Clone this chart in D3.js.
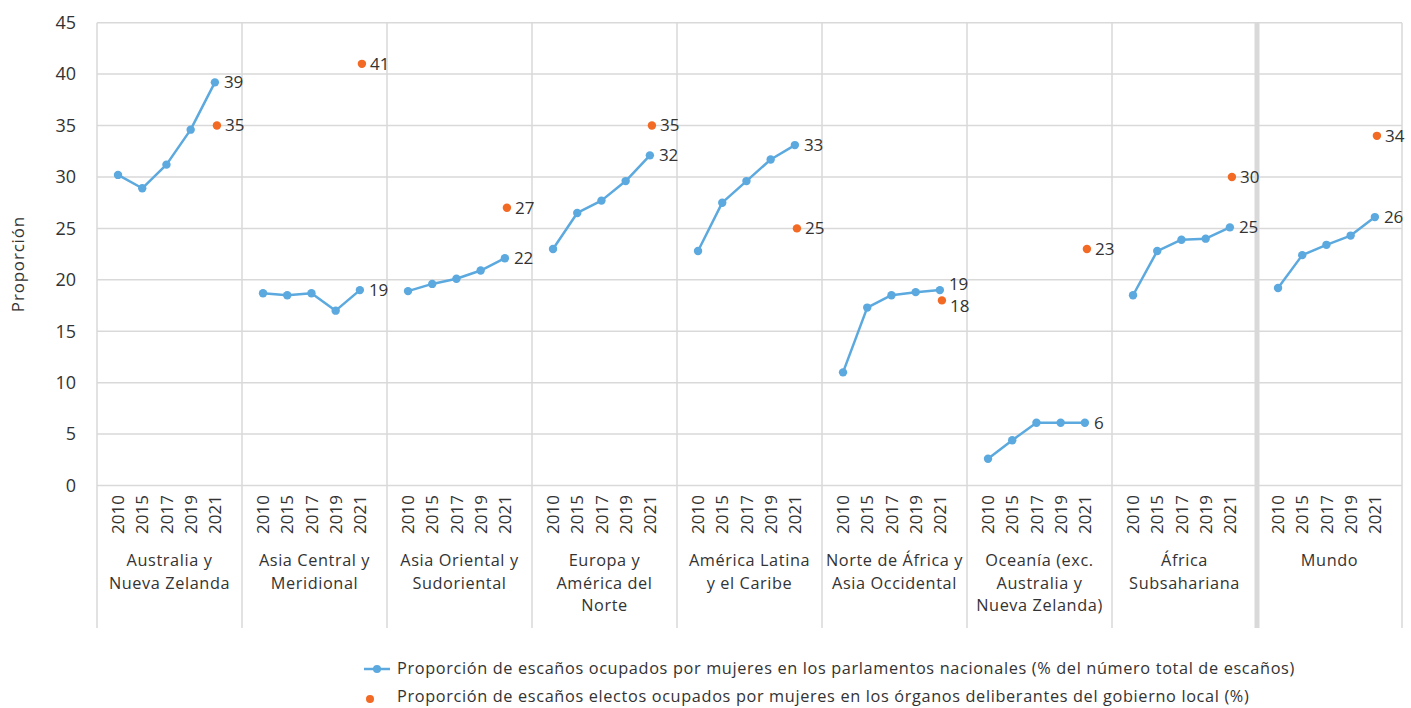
<!DOCTYPE html>
<html>
<head>
<meta charset="utf-8">
<script src="https://cdn.jsdelivr.net/npm/d3@7"></script>
<style>
  html, body { margin: 0; padding: 0; background: #fff; }
  svg { display: block; font-family: "Open Sans", Lato, sans-serif; }
</style>
</head>
<body>
<svg id="chart" width="1411" height="708"></svg>
<script>
// Regions (category groups) and their multi-line labels
const regions = [
  "Australia y\nNueva Zelanda",
  "Asia Central y\nMeridional",
  "Asia Oriental y\nSudoriental",
  "Europa y\nAmérica del\nNorte",
  "América Latina\ny el Caribe",
  "Norte de África y\nAsia Occidental",
  "Oceanía (exc.\nAustralia y\nNueva Zelanda)",
  "África\nSubsahariana",
  "Mundo"
];
const years = ["2010", "2015", "2017", "2019", "2021"];

// Share of seats held by women in national parliaments (%), per region, per year
const parliament = [
  [30.2, 28.9, 31.2, 34.6, 39.2],
  [18.7, 18.5, 18.7, 17.0, 19.0],
  [18.9, 19.6, 20.1, 20.9, 22.1],
  [23.0, 26.5, 27.7, 29.6, 32.1],
  [22.8, 27.5, 29.6, 31.7, 33.1],
  [11.0, 17.3, 18.5, 18.8, 19.0],
  [2.6, 4.4, 6.1, 6.1, 6.1],
  [18.5, 22.8, 23.9, 24.0, 25.1],
  [19.2, 22.4, 23.4, 24.3, 26.1]
];
// Share of elected seats held by women in local deliberative bodies (%), 2021
const localGov = [35, 41, 27, 35, 25, 18, 23, 30, 34];

const yTicks = [0, 5, 10, 15, 20, 25, 30, 35, 40, 45];

const legendLabels = [
  "Proporción de escaños ocupados por mujeres en los parlamentos nacionales (% del número total de escaños)",
  "Proporción de escaños electos ocupados por mujeres en los órganos deliberantes del gobierno local (%)"
];

const BLUE = "#5BA9DE";
const ORANGE = "#F26A24";
const GRID = "#d9d9d9";
const TEXT = "#333333";

const svg = d3.select("#chart");

const plot = { left: 97, right: 1402, top: 22.7, bottom: 485.5, axisBottom: 628 };

const y = d3.scaleLinear().domain([0, 45]).range([plot.bottom, plot.top]);
const gx = d3.scaleBand().domain(d3.range(regions.length)).range([plot.left, plot.right]).padding(0);
const bw = gx.bandwidth();
const xYear = d3.scalePoint().domain(years).range([bw * 0.145, bw * 0.813]);
const xOrange = bw * 0.827;

// Horizontal gridlines
svg.append("g")
  .selectAll("line")
  .data(yTicks)
  .join("line")
  .attr("x1", plot.left).attr("x2", plot.right)
  .attr("y1", d => y(d)).attr("y2", d => y(d))
  .attr("stroke", GRID).attr("stroke-width", 1.5);

// Y tick labels
svg.append("g")
  .selectAll("text")
  .data(yTicks)
  .join("text")
  .attr("x", 76).attr("y", d => y(d))
  .attr("dy", "0.35em")
  .attr("text-anchor", "end")
  .attr("font-size", 18)
  .attr("fill", TEXT)
  .text(d => d);

// Y axis title
svg.append("text")
  .attr("transform", `translate(24, ${(plot.top + plot.bottom) / 2 + 10}) rotate(-90)`)
  .attr("text-anchor", "middle")
  .attr("font-size", 17)
  .attr("letter-spacing", 0.8)
  .attr("fill", TEXT)
  .text("Proporción");

// Group separators (extending through the category label area)
const seps = d3.range(regions.length + 1).map(i => i < regions.length ? gx(i) : plot.right);
svg.append("g")
  .selectAll("line")
  .data(seps)
  .join("line")
  .attr("x1", d => d).attr("x2", d => d)
  .attr("y1", plot.top).attr("y2", plot.axisBottom)
  .attr("stroke", GRID)
  .attr("stroke-width", (d, i) => i === regions.length - 1 ? 5 : 1.5);

// One group per region
const groups = svg.append("g")
  .selectAll("g")
  .data(regions)
  .join("g")
  .attr("transform", (d, i) => `translate(${gx(i)},0)`);

// Year tick labels (rotated)
groups.selectAll("text.year")
  .data(years)
  .join("text")
  .attr("class", "year")
  .attr("transform", d => `translate(${xYear(d)}, 495) rotate(-90)`)
  .attr("dy", "0.36em")
  .attr("text-anchor", "end")
  .attr("font-size", 17)
  .attr("fill", TEXT)
  .text(d => d);

// Region labels
groups.append("text")
  .attr("x", bw / 2)
  .attr("y", 566)
  .attr("text-anchor", "middle")
  .attr("font-size", 16.3)
  .attr("letter-spacing", 0.6)
  .attr("fill", TEXT)
  .selectAll("tspan")
  .data(d => d.split("\n"))
  .join("tspan")
  .attr("x", bw / 2)
  .attr("dy", (d, i) => i === 0 ? 0 : 22.5)
  .text(d => d);

// Parliament lines and markers
const line = d3.line()
  .x((d, i) => xYear(years[i]))
  .y(d => y(d));

groups.append("path")
  .attr("d", (d, i) => line(parliament[i]))
  .attr("fill", "none")
  .attr("stroke", BLUE)
  .attr("stroke-width", 2.5)
  .attr("stroke-linejoin", "round");

groups.selectAll("circle.p")
  .data((d, i) => parliament[i])
  .join("circle")
  .attr("class", "p")
  .attr("cx", (d, j) => xYear(years[j]))
  .attr("cy", d => y(d))
  .attr("r", 4.2)
  .attr("fill", BLUE);

// Local government markers
groups.append("circle")
  .attr("cx", xOrange)
  .attr("cy", (d, i) => y(localGov[i]))
  .attr("r", 4.2)
  .attr("fill", ORANGE);

// Value labels for 2021 points, nudged apart when they would overlap
groups.each(function (d, i) {
  const g = d3.select(this);
  const vb = parliament[i][years.length - 1];
  const vo = localGov[i];
  let yb = y(vb), yo = y(vo);
  const minGap = 22;
  if (Math.abs(yb - yo) < minGap) {
    const mid = (yb + yo) / 2;
    const s = yb < yo ? -1 : 1;
    yb = mid + s * minGap / 2;
    yo = mid - s * minGap / 2;
  }
  g.append("text")
    .attr("x", xYear(years[years.length - 1]) + 9)
    .attr("y", yb).attr("dy", "0.35em")
    .attr("font-size", 17).attr("fill", TEXT)
    .text(Math.round(vb));
  g.append("text")
    .attr("x", xOrange + 8)
    .attr("y", yo).attr("dy", "0.35em")
    .attr("font-size", 17).attr("fill", TEXT)
    .text(Math.round(vo));
});

// Legend
const legend = svg.append("g");
legend.append("line")
  .attr("x1", 364).attr("x2", 390).attr("y1", 669).attr("y2", 669)
  .attr("stroke", BLUE).attr("stroke-width", 2.5);
legend.append("circle").attr("cx", 377).attr("cy", 669).attr("r", 4).attr("fill", BLUE);
legend.append("circle").attr("cx", 370).attr("cy", 699).attr("r", 4).attr("fill", ORANGE);
legend.selectAll("text")
  .data(legendLabels)
  .join("text")
  .attr("x", 397)
  .attr("y", (d, i) => 668 + i * 28)
  .attr("dy", "0.35em")
  .attr("font-size", 16.3)
  .attr("letter-spacing", 0.65)
  .attr("fill", TEXT)
  .text(d => d);
</script>
</body>
</html>
